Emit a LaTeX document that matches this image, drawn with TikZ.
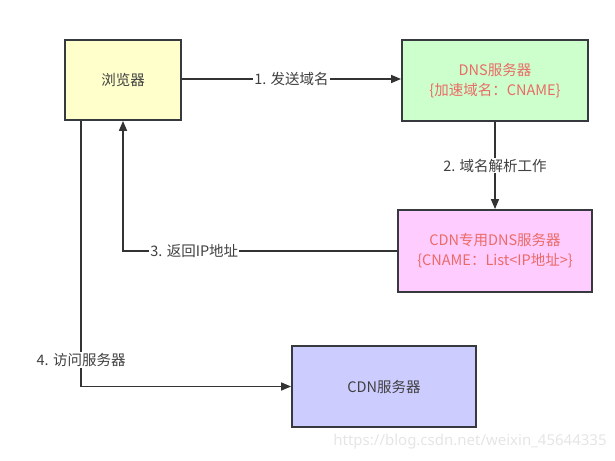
\documentclass[tikz,border=0pt]{standalone}
\usepackage{fontspec}
\setmainfont{Noto Sans CJK SC}
\newfontfamily\markfont{Noto Sans}
\usepackage{xcolor}
\usetikzlibrary{arrows.meta}
\definecolor{boxline}{HTML}{36393D}
\definecolor{txtred}{HTML}{EA6B66}
\definecolor{fillyellow}{HTML}{FFFFCC}
\definecolor{fillgreen}{HTML}{CCFFCC}
\definecolor{fillpink}{HTML}{FFCCFF}
\definecolor{fillblue}{HTML}{CCCCFF}
\tikzset{
    box/.style={draw=boxline, line width=1.8pt, align=center, text=black!75,
        font=\fontsize{14.5}{20}\selectfont, inner sep=0pt},
    browserbox/.style={box, fill=fillyellow, minimum width=116pt, minimum height=80pt},
    dnsbox/.style={box, fill=fillgreen, text=txtred, minimum width=186pt, minimum height=81pt},
    cdndnsbox/.style={box, fill=fillpink, text=txtred, minimum width=194pt, minimum height=82pt},
    cdnbox/.style={box, fill=fillblue, minimum width=184pt, minimum height=81pt},
    % connectors
    flow/.style={-{Triangle[length=10pt,width=8pt]}, line width=1.5pt, draw=black!80},
    steplabel/.style={fill=white, text=black!75, inner sep=1pt,
        font=\fontsize{14.5}{16}\selectfont}
}
\begin{document}
\begin{tikzpicture}[x=1pt, y=-1pt]
\useasboundingbox (0,0) rectangle (615,460);

% Boxes
\node[browserbox] (browser) at (123,80) {浏览器};
\node[dnsbox] (dns) at (495,80.5) {DNS服务器\\\{加速域名：CNAME\}};
\node[cdndnsbox] (cdndns) at (495,251) {CDN专用DNS服务器\\\{CNAME：List<IP地址>\}};
\node[cdnbox] (cdn) at (384,386.5) {CDN服务器};

% Arrows
\draw[flow] (browser.east |- 0,79) -- node[steplabel] (lbl1) {1. 发送域名} (dns.west |- 0,79);
\draw[flow] (dns.south) -- node[steplabel] (lbl2) {2. 域名解析工作} (cdndns.north);
\draw[flow] (cdndns.west) -| node[steplabel, pos=0.37] (lbl3) {3. 返回IP地址} (browser.south);
\draw[flow] ([xshift=17pt]browser.south west) |- node[steplabel, pos=0.45] (lbl4) {4. 访问服务器} (cdn.west);

% Watermark
\node[text=black!10, font=\fontsize{15}{18}\selectfont\markfont] (mark) at (470,442) {https://blog.csdn.net/weixin\_45644335};
\end{tikzpicture}
\end{document}
